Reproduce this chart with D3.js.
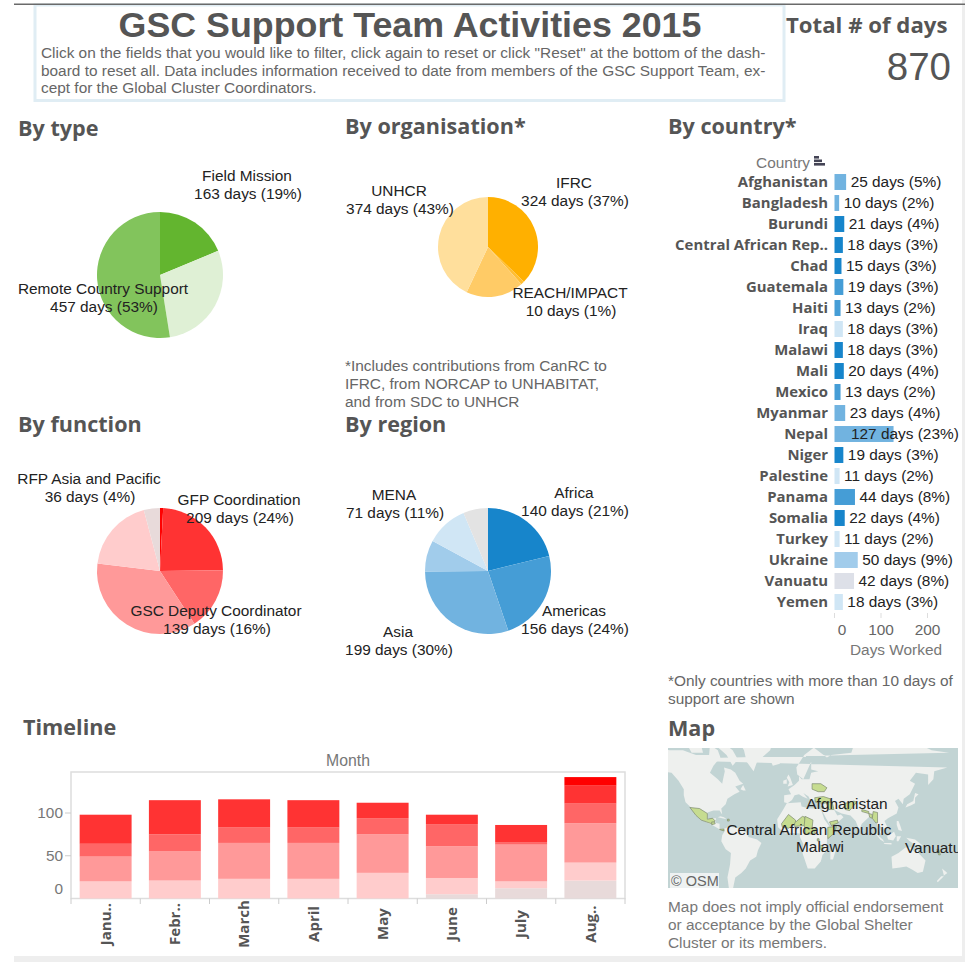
<!DOCTYPE html>
<html><head><meta charset="utf-8">
<script src="https://cdnjs.cloudflare.com/ajax/libs/d3/7.8.5/d3.min.js"></script>
<style>
html,body{margin:0;padding:0;background:#fff}
svg{display:block}
text{font-family:"Liberation Sans",Arial,sans-serif}
.h{font-family:"Open Sans",sans-serif;font-weight:700;fill:#555}
</style></head><body>
<script>
// ---------- data ----------
const typeValues=[163,250,457];
const orgValues=[324,10,162,374];
const functionValues=[7,209,139,314,165,36];
const regionValues=[140,156,199,53,71,42];
const countries=["Afghanistan","Bangladesh","Burundi","Central African Rep..","Chad","Guatemala","Haiti","Iraq","Malawi","Mali","Mexico","Myanmar","Nepal","Niger","Palestine","Panama","Somalia","Turkey","Ukraine","Vanuatu","Yemen"];
const countryDays=[25,10,21,18,15,19,13,18,18,20,13,23,127,19,11,44,22,11,50,42,18];
const countryPct=[5,2,4,3,3,3,2,3,3,4,2,4,23,3,2,8,4,2,9,8,3];
const countryRegion=["Asia","Asia","Africa","Africa","Africa","Americas","Americas","MENA","Africa","Africa","Americas","Asia","Asia","Africa","MENA","Americas","Africa","MENA","Europe","Pacific","MENA"];
const months=["Janu..","Febr..","March","April","May","June","July","Aug.."];
const fnGrey=[0,0,0,0,0,5,12,21];
const fnPink=[20,21,23,23,30,19,8,21];
const fnLight=[29,34,42,42,45,37,43,46];
const fnMid=[15,20,18,18,19,26,3,23];
const fnGfp=[34,40,33,32,18,11,20,21];
const fnRed=[0,0,0,0,0,0,0,10];
const dayTicks=[0,100,200];
const monthTicks=[0,50,100];
// rough outlines, [lon,lat]
const land=[
[[-168,66],[-162,70],[-156,71],[-140,70],[-125,70],[-110,68],[-95,68],[-94,72],[-85,70],[-82,67],[-90,63],[-94,59],[-85,55],[-80,52],[-79,55],[-77,60],[-78,62],[-70,61],[-65,59],[-60,54],[-56,52],[-65,50],[-60,46],[-66,44],[-70,42],[-74,40],[-76,35],[-81,31],[-80,25],[-83,29],[-90,29],[-97,27],[-97,22],[-94,18],[-90,21],[-87,21],[-88,16],[-83,15],[-83,10],[-78,9],[-80,7],[-85,10],[-92,14],[-97,16],[-105,20],[-110,24],[-113,30],[-117,33],[-122,37],[-124,43],[-124,48],[-130,54],[-138,59],[-148,60],[-155,58],[-165,55],[-158,59],[-165,62]],
[[-55,82],[-30,83],[-20,75],[-25,70],[-40,65],[-44,60],[-52,65],[-55,70],[-68,76]],
[[-78,9],[-72,12],[-62,10],[-52,5],[-50,0],[-40,-3],[-35,-7],[-39,-15],[-41,-22],[-48,-26],[-53,-34],[-58,-38],[-65,-42],[-68,-52],[-72,-52],[-74,-42],[-71,-30],[-70,-18],[-76,-14],[-81,-5],[-80,2],[-77,7]],
[[-6,36],[10,37],[11,33],[20,31],[32,31],[34,28],[37,20],[43,12],[51,12],[47,4],[40,-3],[40,-15],[35,-20],[33,-27],[26,-34],[18,-34],[12,-18],[13,-8],[9,0],[9,4],[-4,5],[-8,4],[-16,11],[-17,20],[-10,30]],
[[-9,37],[-9,43],[-1,44],[-4,48],[3,51],[8,54],[8,57],[11,55],[20,55],[22,59],[30,60],[22,61],[22,65],[18,61],[13,55],[6,58],[5,62],[14,68],[25,71],[40,67],[45,68],[68,69],[72,73],[85,74],[105,77],[115,74],[140,73],[160,70],[180,69],[190,66],[178,62],[163,60],[162,55],[156,51],[156,58],[142,59],[135,54],[141,52],[135,44],[128,40],[127,35],[122,40],[118,38],[122,32],[120,26],[110,21],[106,18],[109,12],[105,9],[100,13],[103,2],[99,8],[97,16],[92,21],[88,22],[80,15],[77,8],[73,18],[67,24],[57,26],[52,28],[48,30],[52,24],[56,25],[59,22],[52,16],[44,13],[39,21],[35,28],[35,36],[27,37],[27,40],[22,37],[19,42],[13,45],[18,40],[12,42],[8,44],[3,43],[0,39],[-5,36]],
[[114,-22],[122,-18],[130,-12],[136,-12],[140,-17],[142,-11],[146,-19],[153,-26],[150,-37],[144,-38],[138,-35],[131,-32],[124,-33],[115,-34]],
[[-5,50],[1,51],[-2,56],[-4,58],[-6,56],[-3,53]],[[-10,52],[-6,52],[-6,55],[-10,54]],[[-24,65],[-14,66],[-14,64],[-22,63]],
[[44,-25],[47,-25],[50,-15],[49,-12],[44,-17]],[[130,32],[136,34],[141,36],[141,41],[145,44],[141,45],[139,38],[132,35]],
[[95,5],[104,-3],[106,-6],[101,-3]],[[109,1],[117,6],[119,1],[116,-4],[110,-3]],[[105,-7],[114,-7],[114,-8.5],[106,-8]],[[120,1],[125,1],[122,-5],[120,-5]],
[[131,-1],[141,-3],[150,-10],[141,-9],[134,-4]],[[120,18],[122,18],[124,13],[126,7],[122,8],[120,14]],[[173,-41],[178,-38],[175,-36],[172,-34],[174,-40]],[[167,-46],[174,-41],[171,-41],[166,-45]],
[[-85,22],[-75,20],[-78,22],[-82,23]],[[80,9],[82,7],[80,6]],[[-80,73],[-68,70],[-62,66],[-68,63],[-75,68],[-88,72]],[[-120,72],[-105,73],[-102,69],[-115,69]],[[-56,47],[-53,47],[-56,51],[-59,48]]
];
const highlighted=[
[[-117,32],[-106,31],[-97,26],[-97,20],[-91,21],[-88,18],[-92,15],[-104,19],[-110,24]],
[[-92,17],[-89,17],[-88,15],[-92,14]],[[-83,9],[-78,9],[-78,7],[-82,8]],[[-74,20],[-72,20],[-72,18],[-74,18]],
[[-12,15],[-4,25],[4,19],[4,15],[-4,10],[-11,11]],[[3,16],[12,23],[15,22],[15,13],[3,12]],[[15,23],[24,19],[23,10],[15,8],[14,13]],
[[15,10],[27,10],[26,4],[15,3]],[[29,-2],[31,-2],[31,-4.5],[29,-4.5]],[[33,-9],[35.5,-11],[35,-17],[33,-14]],
[[41,11],[51,12],[48,4],[41,-2]],[[43,17],[52,19],[53,16],[45,13]],
[[23,52],[33,52],[40,49],[37,46],[30,46],[23,48]],[[26,41],[36,42],[44,40],[44,37],[36,36],[27,37]],[[39,37],[46,37],[48,30],[42,30]],[[34,33],[36,33],[35,31]],
[[61,36],[71,38],[74,37],[69,32],[66,29],[61,30]],[[80,30],[88,28],[88,26],[80,28]],[[88,26],[92,25],[92,21],[89,22]],
[[93,28],[98,27],[98,16],[96,16],[92,21]],[[166,-14],[168,-14],[170,-20],[168,-20]]
];
// ---------- canvas ----------
const W=965,H=962,FS=15.4;
const svg=d3.select("body").append("svg").attr("width",W).attr("height",H);
svg.append("rect").attr("x",962).attr("y",0).attr("width",3).attr("height",H).attr("fill","#eeeeee");
svg.append("rect").attr("x",14).attr("y",956).attr("width",W-14).attr("height",6).attr("fill","#eeeeee");
svg.append("rect").attr("x",35).attr("y",5).attr("width",749).attr("height",95.5).attr("fill","none").attr("stroke","#e0edf4").attr("stroke-width",3);
svg.append("rect").attr("x",14).attr("y",3.5).attr("width",951).attr("height",1.5).attr("fill","#6a6a6a");
function txt(s,x,y,o={}){
  return svg.append("text").text(s).attr("x",x).attr("y",y).attr("dy","0.35em")
    .attr("text-anchor",o.a||"start").attr("font-size",o.s||FS).attr("fill",o.f||"#222")
    .attr("font-weight",o.w||400).attr("class",o.c||null);
}
txt("GSC Support Team Activities 2015",410,24,{a:"middle",s:35.8,w:700,f:"#555"});
[["Click on the fields that you would like to filter, click again to reset or click \"Reset\" at the bottom of the dash-",53],
 ["board to reset all. Data includes information received to date from members of the GSC Support Team, ex-",71],
 ["cept for the Global Cluster Coordinators.",88]].forEach(d=>txt(d[0],41,d[1],{f:"#666"}));
txt("Total # of days",786,25,{s:22.2,c:"h"});
txt("870",951,67,{a:"end",s:38.5,f:"#555"});
[["By type",18,128],["By organisation*",345,126],["By country*",668,126],["By function",18,424],["By region",345,424],["Timeline",23,727],["Map",668,728]]
 .forEach(d=>txt(d[0],d[1],d[2],{s:21.6,c:"h"}));
// ---------- pies ----------
function drawPie(vals,colors,cx,cy,r){
  const arcs=d3.pie().sort(null)(vals);
  svg.append("g").attr("transform",`translate(${cx},${cy})`).selectAll("path").data(arcs).join("path")
    .attr("d",d3.arc().innerRadius(0).outerRadius(r)).attr("fill",(d,i)=>colors[i]);
}
drawPie(typeValues,["#63b52f","#dff0d5","#82c45c"],160,275,63);
drawPie(orgValues,["#ffb000","#ffbe33","#ffcb66","#ffdf9c"],488,247,50);
drawPie(functionValues,["#ff0000","#ff3333","#ff6666","#ff9999","#ffcccc","#e8dada"],160,571,63);
drawPie(regionValues,["#1785cb","#459dd6","#71b3e0","#a1cceb","#d0e6f5","#e3e3e3"],488,571,63);
function lab2(a,b,x,y){txt(a,x,y,{a:"middle"});txt(b,x+1,y+18,{a:"middle"});}
lab2("Field Mission","163 days (19%)",247,176);
lab2("Remote Country Support","457 days (53%)",103,289);
lab2("UNHCR","374 days (43%)",399,191);
lab2("IFRC","324 days (37%)",574,183);
lab2("REACH/IMPACT","10 days (1%)",570,293);
lab2("RFP Asia and Pacific","36 days (4%)",89,479);
lab2("GFP Coordination","209 days (24%)",239,500);
lab2("GSC Deputy Coordinator","139 days (16%)",216,611);
lab2("MENA","71 days (11%)",394,495);
lab2("Africa","140 days (21%)",574,493);
lab2("Americas","156 days (24%)",574,611);
lab2("Asia","199 days (30%)",398,632);
[["*Includes contributions from CanRC to",366],["IFRC, from NORCAP to UNHABITAT,",384],["and from SDC to UNHCR",402]].forEach(d=>txt(d[0],345,d[1],{f:"#666"}));
// ---------- country bars ----------
const regionColor={Africa:"#1785cb",Americas:"#459dd6",Asia:"#71b3e0",Europe:"#a1cceb",MENA:"#d0e6f5",Pacific:"#dde0e8"};
const xC=d3.scaleLinear().domain([0,200]).range([834.5,927.5]);
const yC=d3.scaleBand().domain(countries).range([171.5,612.5]).paddingInner(0.24).paddingOuter(0.12);
const gC=svg.append("g");
gC.selectAll("rect").data(countries).join("rect").attr("x",xC(0)).attr("y",d=>yC(d)).attr("height",yC.bandwidth())
  .attr("width",(d,i)=>xC(countryDays[i])-xC(0)).attr("fill",(d,i)=>regionColor[countryRegion[i]]);
countries.forEach((c,i)=>{
  const y=yC(c)+yC.bandwidth()/2;
  txt(c,828,y,{a:"end",s:14.9,c:"h"});
  const big=countryDays[i]>100;
  txt(`${countryDays[i]} days (${countryPct[i]}%)`,big?851:xC(countryDays[i])+4.5,y);
});
txt("Country",810,163,{a:"end",f:"#777"});
const sortIcon=svg.append("g").attr("fill","#445");
[[5,0],[8,3.5],[11,7]].forEach(d=>sortIcon.append("rect").attr("x",814).attr("y",156+d[1]).attr("width",d[0]).attr("height",2.6));
const axC=svg.append("g").attr("stroke","#ddd");
axC.selectAll("line").data(dayTicks).join("line").attr("x1",d=>xC(d)).attr("x2",d=>xC(d)).attr("y1",613).attr("y2",618);
dayTicks.forEach(d=>txt(d,d===0?842:xC(d),630,{a:"middle",f:"#666"}));
txt("Days Worked",896,650,{a:"middle",f:"#777"});
txt("*Only countries with more than 10 days of",668,681,{f:"#666"});
txt("support are shown",668,699,{f:"#666"});
// ---------- timeline ----------
const keys=["grey","pink","light","mid","gfp","red"];
const series={grey:fnGrey,pink:fnPink,light:fnLight,mid:fnMid,gfp:fnGfp,red:fnRed};
const stackColor={grey:"#e8dada",pink:"#ffcccc",light:"#ff9999",mid:"#ff6666",gfp:"#ff3333",red:"#ff0000"};
const rows=months.map((m,i)=>{const o={month:m};keys.forEach(k=>o[k]=series[k][i]);return o;});
const xM=d3.scaleBand().domain(months).range([71,625]).paddingInner(0.25).paddingOuter(0.125);
const yM=d3.scaleLinear().domain([0,100]).range([898.5,813]);
svg.append("rect").attr("x",71).attr("y",772).attr("width",554).attr("height",126.5).attr("fill","#fff").attr("stroke","#ddd").attr("stroke-width",1.5);
svg.append("g").selectAll("g").data(d3.stack().keys(keys)(rows)).join("g").attr("fill",d=>stackColor[d.key])
 .selectAll("rect").data(d=>d).join("rect").attr("x",d=>xM(d.data.month)).attr("width",xM.bandwidth())
 .attr("y",d=>yM(d[1])).attr("height",d=>yM(d[0])-yM(d[1]));
const step=xM.step();
const tg=svg.append("g").attr("stroke","#ccc");
d3.range(9).forEach(i=>tg.append("line").attr("x1",71+i*step).attr("x2",71+i*step).attr("y1",898.5).attr("y2",904));
monthTicks.filter(d=>d>0).forEach(d=>tg.append("line").attr("x1",65).attr("x2",71).attr("y1",yM(d)).attr("y2",yM(d)));
monthTicks.forEach(d=>txt(d,63,d===0?889:yM(d),{a:"end",s:15.4,f:"#777"}));
txt("Month",348,760,{a:"middle",s:15.8,f:"#777"});
months.forEach(m=>{
  const cx=xM(m)+xM.bandwidth()/2;
  svg.append("text").text(m).attr("transform",`translate(${cx},924) rotate(-90)`).attr("dy","0.35em")
    .attr("text-anchor","middle").attr("font-size",15).attr("class","h");
});
// ---------- map ----------
const proj=d3.geoMercator().scale(50).translate([792,837]);
const defs=svg.append("defs");
defs.append("clipPath").attr("id","mc").append("rect").attr("x",668).attr("y",748).attr("width",290).attr("height",140);
const gm=svg.append("g").attr("clip-path","url(#mc)");
gm.append("rect").attr("x",668).attr("y",748).attr("width",290).attr("height",140).attr("fill","#c2d4d4");
const ring=d3.line().x(d=>proj(d)[0]).y(d=>proj(d)[1]).curve(d3.curveLinearClosed);
gm.selectAll("path.l").data(land).join("path").attr("class","l").attr("d",ring).attr("fill","#eef0ee");
gm.selectAll("path.c").data(highlighted).join("path").attr("class","c").attr("d",ring).attr("fill","#c6dc90").attr("stroke","#7d8a70").attr("stroke-width",0.7);
[["Afghanistan",847,804,"middle"],["Central African Republic",809,829.5,"middle"],["Malawi",820,847,"middle"],["Vanuatu",905,848,"start"]].forEach(d=>{
  gm.append("text").text(d[0]).attr("x",d[1]).attr("y",d[2]).attr("dy","0.35em").attr("text-anchor",d[3]).attr("font-size",FS).attr("fill","#222");
});
gm.append("rect").attr("x",670).attr("y",873).attr("width",49).attr("height",15).attr("fill","#eef2f2");
gm.append("text").text("© OSM").attr("x",671).attr("y",881).attr("dy","0.35em").attr("font-size",14.5).attr("fill","#666");
[["Map does not imply official endorsement",907],["or acceptance by the Global Shelter",925],["Cluster or its members.",943]].forEach(d=>txt(d[0],668,d[1],{f:"#777"}));
</script>
</body></html>
